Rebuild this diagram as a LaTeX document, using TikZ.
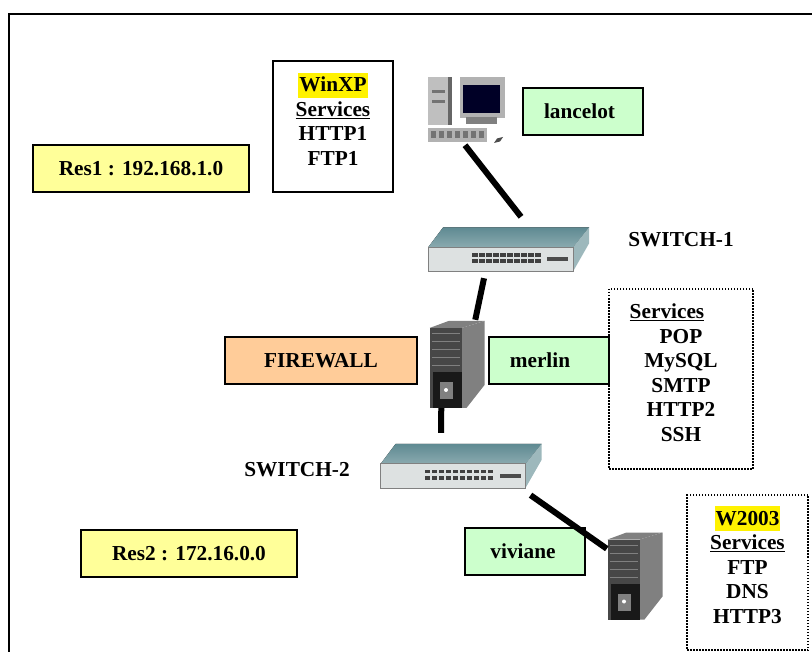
\documentclass[tikz,border=0pt]{standalone}
\usepackage{fontspec}
\setmainfont{Liberation Serif}
\definecolor{resyellow}{HTML}{FFFF99}
\definecolor{hostgreen}{HTML}{CCFFCC}
\definecolor{wallorange}{HTML}{FFCC99}
\definecolor{swtop}{HTML}{5F8A92}
\definecolor{swside}{HTML}{9DB8BC}
\definecolor{swfront}{HTML}{DDE1E1}
\newcommand{\hilite}[1]{{\setlength{\fboxsep}{0pt}\colorbox{yellow}{\rule[-6pt]{0pt}{25pt}\hspace{1pt}#1\hspace{1pt}}}}
\tikzset{
  labeltext/.style={font=\fontsize{21.3}{24.5}\selectfont\bfseries,align=center,inner sep=0pt},
  box/.style={labeltext,draw=black,line width=2pt,minimum width=#1},
  box/.default=120pt,
  dotbox/.style={labeltext,draw=black,line width=1.5pt,dash pattern=on 1.5pt off 1.5pt},
  iconbox/.style={inner sep=0pt},
  link/.style={line width=6pt},
  pics/switchicon/.style={code={
    \fill[top color=swtop,bottom color=swside!70!swtop] (-80,0) -- (-65,-20) -- (81,-20) -- (65,0) -- cycle;
    \fill[swside] (65,0) -- (81,-20) -- (81,-4) -- (65,24) -- cycle;
    \fill[swfront,draw=gray,line width=1pt] (-80,0) rectangle (65,24);
    \foreach \y in {6,12}
      \foreach \x in {-36,-29,...,-8,-1,6,...,27}
        \fill[black!75] (\x,\y) rectangle +(5.5,3.5);
    \fill[black!70] (39,10) rectangle (60,14);
  }},
  pics/towericon/.style={code={
    \fill[gray] (-27,-36) -- (-8,-43) -- (28,-43) -- (5,-36) -- cycle;
    \fill[black!50] (5,-36) -- (28,-43) -- (28,21) -- (10,44) -- (5,44) -- cycle;
    \fill[black!72] (-27,-36) rectangle (5,44);
    \fill[black!90] (-24,8) rectangle (5,44);
    \foreach \y in {-30,-22,...,2}
      \draw[black!50,line width=1pt] (-25,\y) -- (3,\y);
    \fill[gray] (-17,18) rectangle (-4,35);
    \fill[white] (-10.5,26) circle (2);
  }},
  pics/pcicon/.style={code={
    \fill[black!25] (-37,-29.5) rectangle (-13,18.5);
    \fill[black!60] (-17,-29.5) rectangle (-13,18.5);
    \fill[black!55] (-33,-16) rectangle (-20,-13);
    \fill[black!55] (-33,-6) rectangle (-20,-3);
    \fill[black!30] (-5,-29.5) rectangle (40,11.5);
    \fill[black!85!blue] (-2,-21.5) rectangle (35,6.5);
    \fill[black!50] (1,10.5) rectangle (32,17.5);
    \fill[black!30] (-37,21.5) rectangle (22,35.5);
    \foreach \x in {-34,-26,...,14}
      \fill[black!55] (\x,25) rectangle +(5,7);
    \fill[black!70] (29,36.5) -- (32,32) -- (38,30.5) -- (35,35) -- cycle;
  }}
}
\begin{document}
\begin{tikzpicture}[x=1pt,y=-1pt]
  \useasboundingbox (0,0) rectangle (812,652);
  \draw[line width=2pt] (8.5,652) -- (8.5,14.5) -- (812,14.5);

  \node[box,minimum height=47pt,fill=resyellow,minimum width=216pt] (res1) at (141,168.5) {Res1 : 192.168.1.0};
  \node[box,minimum height=47pt,fill=resyellow,minimum width=216pt] (res2) at (189,553.5) {Res2 : 172.16.0.0};
  \node[box,minimum height=47pt,fill=wallorange,minimum width=192pt] (firewall) at (321,360.5) {FIREWALL};
  \node[box,minimum height=47pt,fill=hostgreen] (lancelot) at (583,111.5) {\hspace*{-7pt}lancelot};
  \node[box,minimum height=47pt,fill=hostgreen] (merlin) at (549,360.5) {\hspace*{-18pt}merlin};
  \node[box,minimum height=47pt,fill=hostgreen] (viviane) at (525,551.5) {\hspace*{-4pt}viviane};

  \node[box,minimum height=131pt] (xpbox) at (333,126.5) {\hilite{WinXP}\\\underline{Services}\\HTTP1\\FTP1\rule[-15pt]{0pt}{15pt}};
  \node[dotbox,minimum width=144pt,minimum height=180pt] (merlinbox) at (681,379)
    {\hspace*{-28pt}\underline{Services}\\POP\\MySQL\\SMTP\\HTTP2\\SSH\rule[-13pt]{0pt}{13pt}};
  \node[dotbox,minimum width=121pt,minimum height=155pt] (w2003box) at (747.5,572.5)
    {\hilite{W2003}\\\underline{Services}\\FTP\\DNS\\HTTP3\rule[-16pt]{0pt}{16pt}};

  \node[labeltext] (sw1label) at (681,240) {SWITCH-1};
  \node[labeltext] (sw2label) at (297,470) {SWITCH-2};

  \node[iconbox,minimum width=96pt,minimum height=77pt] (pc) at (465,106.5) {};
  \node[iconbox,minimum width=164pt,minimum height=61pt] (sw1) at (508,247.5) {};
  \node[iconbox,minimum width=57pt,minimum height=88pt] (tower) at (456.5,364) {};
  \node[iconbox,minimum width=164pt,minimum height=62pt] (sw2) at (460.5,464) {};
  \node[iconbox,minimum width=55pt,minimum height=87pt] (vivtower) at (634.5,575.5) {};

  \pic at (pc) {pcicon};
  \pic at (sw1) {switchicon};
  \pic at (tower) {towericon};
  \pic at (sw2) {switchicon};
  \pic at (vivtower) {towericon};

  \draw[link] (pc.south) -- (sw1.67);
  \draw[link] (sw1.232) -- (tower.67);
  \draw[link] (tower.251) -- (sw2.122);
  \draw[link] (sw2.336) -- (vivtower.136);
\end{tikzpicture}
\end{document}
